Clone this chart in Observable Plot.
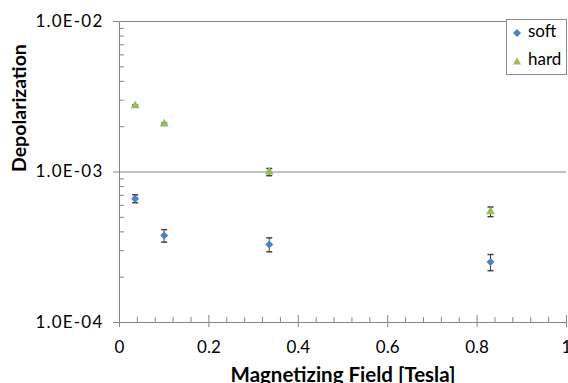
<!DOCTYPE html>
<html>
<head>
<meta charset="utf-8">
<script src="https://cdn.jsdelivr.net/npm/d3@7"></script>
<script src="https://cdn.jsdelivr.net/npm/@observablehq/plot@0.6"></script>
<style>
  html, body { margin: 0; padding: 0; background: white; }
  #wrap { position: relative; width: 568px; height: 383px; overflow: hidden; font-family: Lato, sans-serif; }
  #legend { position: absolute; left: 506px; top: 19px; width: 61px; height: 56px; box-sizing: border-box;
            border: 1px solid #8c8c8c; background: white; }
  .item { position: absolute; left: 0; font-size: 17px; color: #000; line-height: 17px; }
  .item svg { position: absolute; left: 5px; top: 6px; }
  .item span { position: absolute; left: 21px; top: 0; white-space: nowrap; }
  .ylab text { letter-spacing: 1.2px; }
</style>
</head>
<body>
<div id="wrap"></div>
<script>
// Data
const field     = [0.035, 0.100, 0.335, 0.830];
const soft      = [6.65e-4, 3.78e-4, 3.30e-4, 2.52e-4];
const softErr   = [0.40e-4, 0.36e-4, 0.35e-4, 0.31e-4];
const hard      = [2.76e-3, 2.09e-3, 1.00e-3, 5.45e-4];
const hardErr   = [0.03e-3, 0.03e-3, 0.055e-3, 0.40e-4];
const seriesNames = ["soft", "hard"];
const colors      = ["#4f81bd", "#9bbb59"];

// Axes ticks
const yMajor = [1e-4, 1e-3, 1e-2];
const yMinor = [2e-4, 3e-4, 4e-4, 5e-4, 6e-4, 7e-4, 8e-4, 9e-4,
                2e-3, 3e-3, 4e-3, 5e-3, 6e-3, 7e-3, 8e-3, 9e-3];
const yGrid  = [1e-3, 1e-2];
const xMajor = [0, 0.2, 0.4, 0.6, 0.8, 1];
const xMinor = [0.04, 0.08, 0.12, 0.16, 0.24, 0.28, 0.32, 0.36, 0.44, 0.48, 0.52, 0.56,
                0.64, 0.68, 0.72, 0.76, 0.84, 0.88, 0.92, 0.96];
const xTitle = "Magnetizing Field [Tesla]";
const yTitle = "Depolarization";

const rows = (vals, errs, name) => vals.map((v, i) => ({x: field[i], y: v, lo: v - errs[i], hi: v + errs[i], name}));
const softRows = rows(soft, softErr, "soft");
const hardRows = rows(hard, hardErr, "hard");
const allRows = softRows.concat(hardRows);

const yFmt = d => {
  const [m, e] = d.toExponential(1).split("e");
  const n = +e;
  return m + "E" + (n < 0 ? "-" : "+") + String(Math.abs(n)).padStart(2, "0");
};
const xFmt = d => String(+d.toFixed(1));
const blank = () => "";
const capSymbol = { draw(ctx) { ctx.moveTo(-3, 0); ctx.lineTo(3, 0); } };

const axisColor = "#868686";
const errColor = "#404040";

const chart = Plot.plot({
  width: 568,
  height: 383,
  marginLeft: 119,
  marginRight: 2,
  marginTop: 21,
  marginBottom: 61,
  x: { domain: [0, 1] },
  y: { type: "log", domain: [1e-4, 1e-2] },
  style: { fontFamily: "Lato, sans-serif", fontSize: "17px", color: "#000", background: "white", overflow: "visible" },
  marks: [
    Plot.ruleY(yGrid, { stroke: axisColor }),
    Plot.ruleX([0], { stroke: axisColor }),
    Plot.ruleY([1e-4], { stroke: axisColor }),
    Plot.axisY({ ticks: yMajor, tickSize: 6, tickPadding: 10, tickFormat: yFmt, label: null, stroke: axisColor, fontSize: 17, className: "ylab" }),
    Plot.axisY({ ticks: yMinor, tickSize: 5, dx: 5, tickFormat: blank, label: null, stroke: axisColor }),
    Plot.axisX({ ticks: xMajor, tickSize: 12, dy: -7, tickFormat: blank, label: null, stroke: axisColor }),
    Plot.axisX({ ticks: xMajor, tickSize: 0, tickPadding: 18, tickFormat: xFmt, label: null, fontSize: 17 }),
    Plot.axisX({ ticks: xMinor, tickSize: 5, dy: -5, tickFormat: blank, label: null, stroke: axisColor }),
    Plot.ruleX(allRows, { x: "x", y1: "lo", y2: "hi", stroke: errColor }),
    Plot.dot(allRows, { x: "x", y: "lo", symbol: capSymbol, stroke: errColor, r: 3 }),
    Plot.dot(allRows, { x: "x", y: "hi", symbol: capSymbol, stroke: errColor, r: 3 }),
    Plot.dot(softRows, { x: "x", y: "y", symbol: "diamond2", r: 3.6, fill: colors[0] }),
    Plot.dot(hardRows, { x: "x", y: "y", symbol: "triangle", r: 3.3, fill: colors[1] }),
    Plot.text([yTitle], { text: d => d, frameAnchor: "left", dx: -94, rotate: -90, lineAnchor: "bottom",
                          fontWeight: "bold", fontSize: 19.5, fill: "#000" }),
    Plot.text([xTitle], { text: d => d, frameAnchor: "bottom", dy: 59, lineAnchor: "bottom",
                          fontWeight: "bold", fontSize: 20.5, fill: "#000" })
  ]
});

const wrap = document.getElementById("wrap");
wrap.appendChild(chart);
// y tick labels: add the class for letter spacing (in case className did not reach the text group)
chart.querySelectorAll('g[aria-label="y-axis tick label"]').forEach(g => g.classList.add("ylab"));

// Legend (overlaid in the top-right corner, as in the reference)
const legend = document.createElement("div");
legend.id = "legend";
const markers = [
  `<svg width="10" height="10"><path d="M5,1L9,5L5,9L1,5Z" fill="${colors[0]}"/></svg>`,
  `<svg width="10" height="10"><path d="M5,1.5L9,8.5L1,8.5Z" fill="${colors[1]}"/></svg>`
];
seriesNames.forEach((name, i) => {
  const it = document.createElement("div");
  it.className = "item";
  it.style.top = (2 + i * 28) + "px";
  it.innerHTML = markers[i] + `<span>${name}</span>`;
  legend.appendChild(it);
});
wrap.appendChild(legend);
</script>
</body>
</html>
